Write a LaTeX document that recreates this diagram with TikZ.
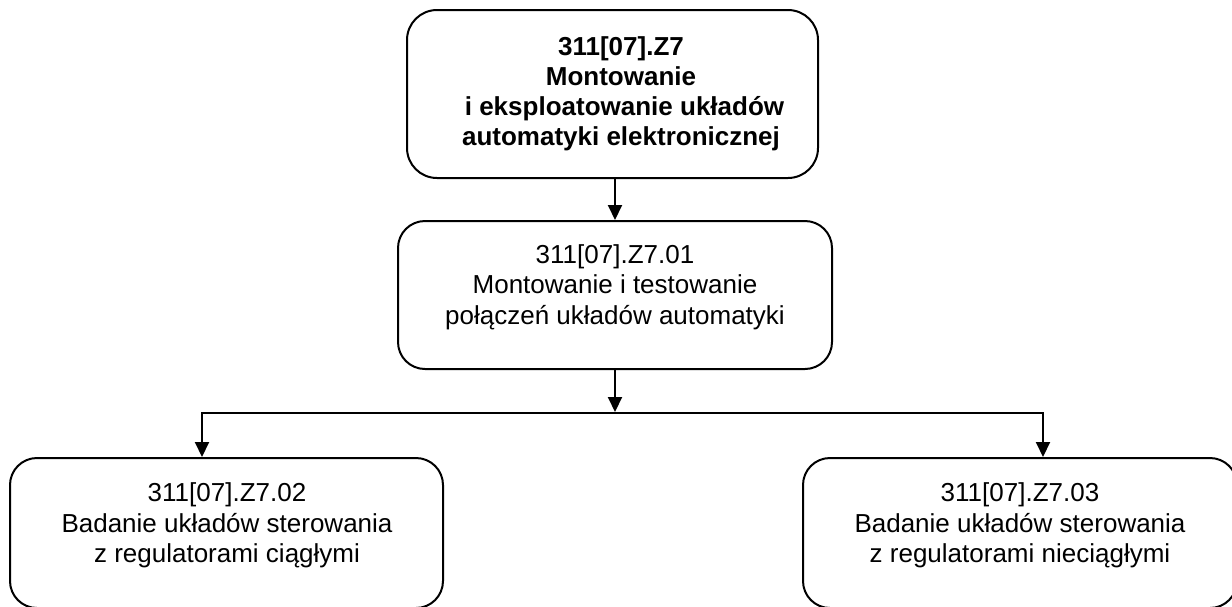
\documentclass[tikz,border=0pt]{standalone}
\usepackage{fontspec}
\setmainfont{Liberation Sans}
\usetikzlibrary{arrows.meta}

\tikzset{
  box/.style={draw=black, line width=2pt, rounded corners=27pt, inner sep=0pt},
  label/.style={align=center, inner sep=0pt, font=\fontsize{26}{30.5}\selectfont},
  conn/.style={line width=2pt, -{Triangle[width=14pt,length=15pt]}},
  busline/.style={line width=2pt, {Triangle[width=14pt,length=15pt]}-{Triangle[width=14pt,length=15pt]}}
}

\begin{document}
\begin{tikzpicture}[x=1pt, y=-1pt]
  \useasboundingbox (0,0) rectangle (1232,606);
  \clip (0,0) rectangle (1232,606);

  % boxes (pixel coordinates, y grows downwards)
  \node[box, rounded corners=30pt, minimum width=411pt, minimum height=168pt] (top) at (612.5,94) {};
  \node[box, minimum width=434pt, minimum height=148pt] (mid) at (615,295) {};
  \node[box, minimum width=433pt, minimum height=150pt] (left) at (226.5,533) {};
  \node[box, minimum width=434pt, minimum height=150pt] (right) at (1020,533) {};

  % texts
  \node[label, font=\fontsize{26}{30}\bfseries\selectfont] (topT) at (621,93.5)
    {311[07].Z7\\Montowanie\\\hspace*{7pt}i eksploatowanie układów\\automatyki elektronicznej};
  \node[label] (midT) at (615,287)
    {311[07].Z7.01\\Montowanie i testowanie\\połączeń układów automatyki};
  \node[label] (leftT) at (227,525.5)
    {311[07].Z7.02\\Badanie układów sterowania\\z regulatorami ciągłymi};
  \node[label] (rightT) at (1020,525.5)
    {311[07].Z7.03\\Badanie układów sterowania\\z regulatorami nieciągłymi};

  % connectors
  \coordinate (split) at (615,412);
  \coordinate (busL) at (202,413);
  \coordinate (busR) at (1043,413);

  \draw[conn] (mid.north |- top.south) -- (mid.north);
  \draw[conn] (mid.south) -- (split);
  \draw[busline] (busL |- left.north) -- (busL) -- (busR) -- (busR |- right.north);
\end{tikzpicture}
\end{document}
